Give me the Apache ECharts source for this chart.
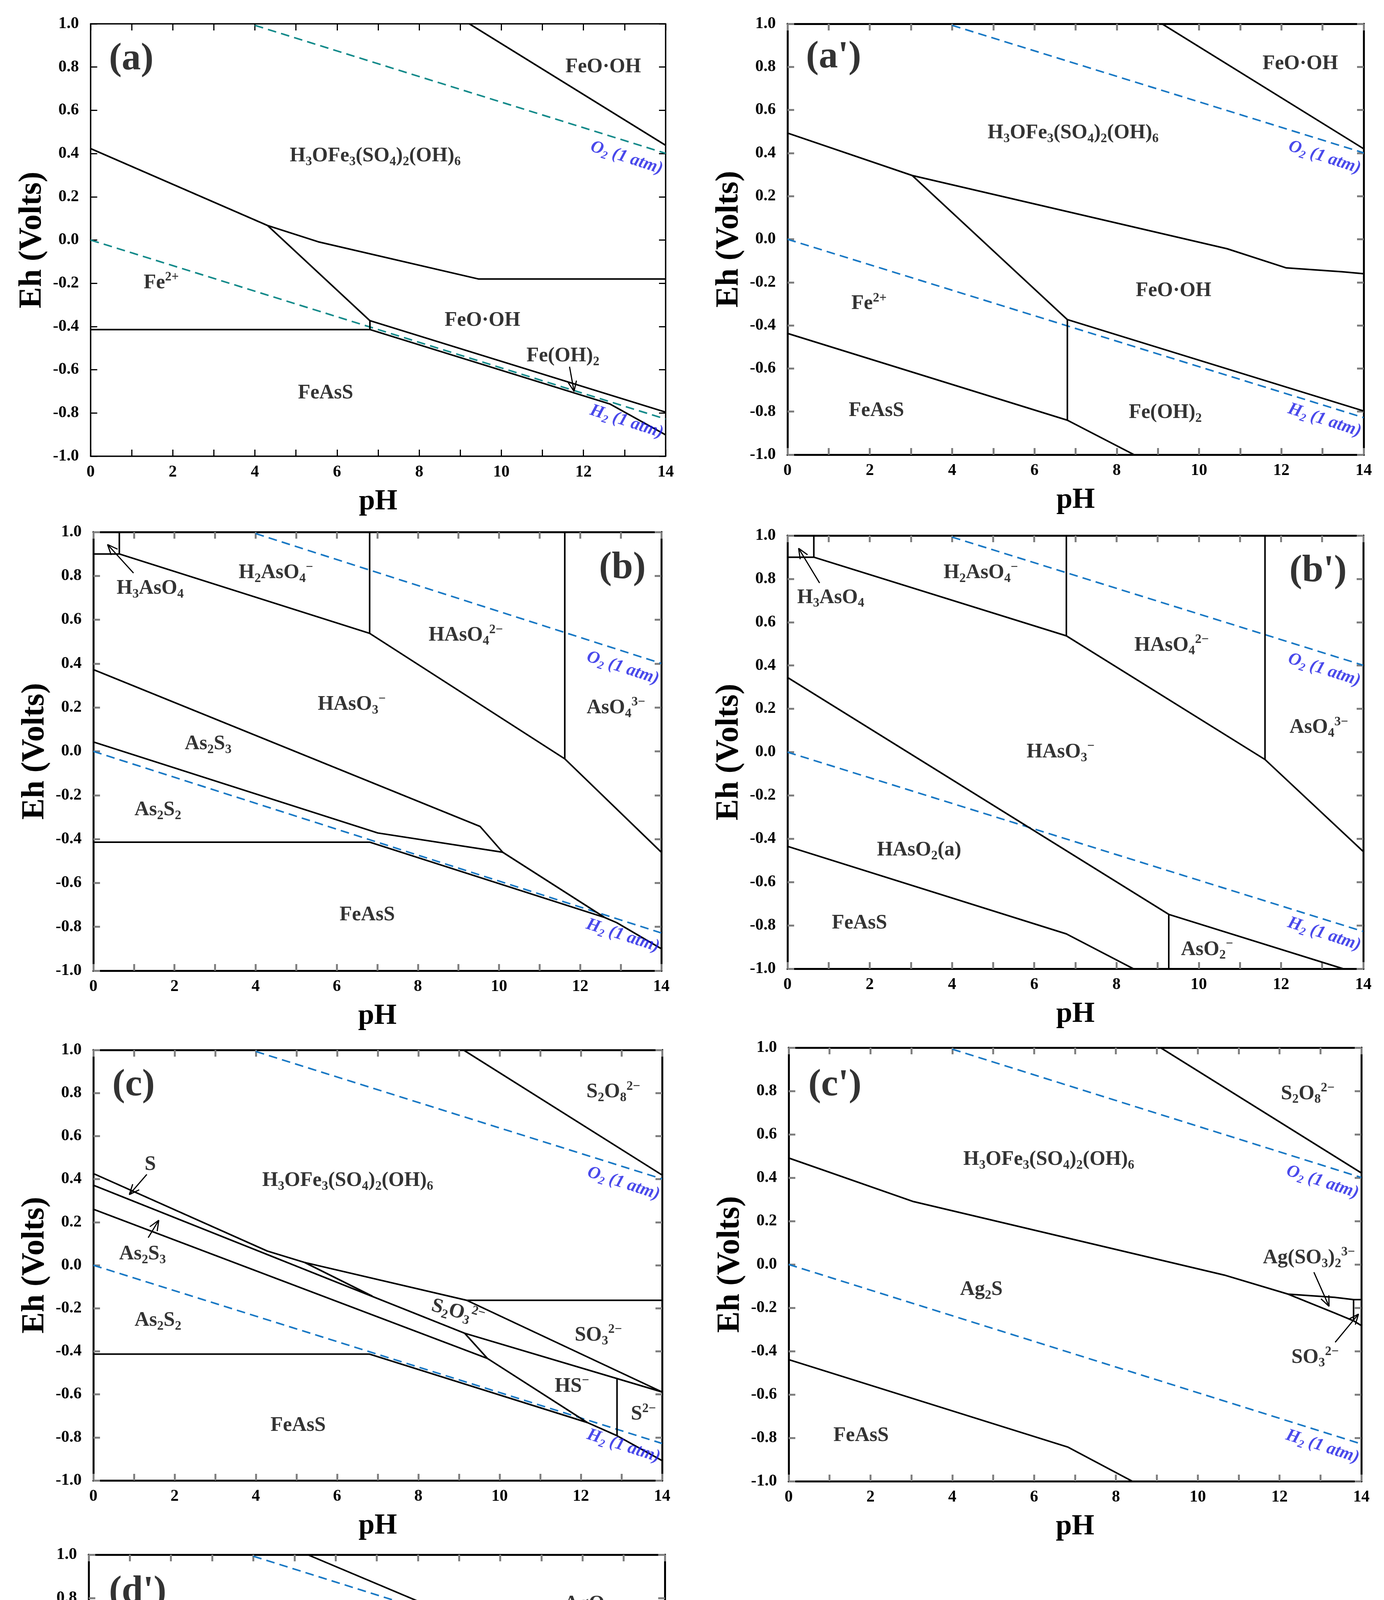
<!DOCTYPE html>
<html>
<head>
<meta charset="utf-8">
<script src="https://cdn.jsdelivr.net/npm/echarts@6/dist/echarts.min.js"></script>
<style>
  html, body { margin: 0; background: #fff; }
  #chart { width: 3543px; height: 5273px; }
</style>
</head>
<body>
<div id="chart"></div>
<script>
// water stability lines, same on every panel
const o2Line = [[4.0, 0.993], [14, 0.401]];
const h2Line = [[0, 0.0], [14, -0.828]];
const waterLabels = [[13.05, 0.38, 'O_2 (1 atm)'], [13.05, -0.84, 'H_2 (1 atm)']];

// (a)
const aTag = [0.99, 0.837, '(a)'];
const aLines = [
  [[9.22, 1.0], [14, 0.438]],
  [[0, 0.423], [4.31, 0.067], [5.54, -0.008], [9.44, -0.18], [14, -0.18]],
  [[4.31, 0.067], [6.80, -0.373]],
  [[6.80, -0.373], [14, -0.796]],
  [[6.80, -0.373], [6.80, -0.414]],
  [[0, -0.414], [6.80, -0.414], [12.64, -0.758], [14, -0.901]]
];
const aLabels = [
  [12.48, 0.80, 'FeO·OH'],
  [6.93, 0.388, 'H_3OFe_3(SO_4)_2(OH)_6'],
  [1.72, -0.198, 'Fe^{2+}'],
  [9.54, -0.373, 'FeO·OH'],
  [11.5, -0.537, 'Fe(OH)_2'],
  [5.72, -0.708, 'FeAsS']
];
const aArrows = [[[11.66, -0.586], [11.77, -0.70]]];

// (a')
const apTag = [1.12, 0.844, "(a')"];
const apLines = [
  [[9.10, 1.0], [14, 0.42]],
  [[0, 0.493], [3.03, 0.296], [10.68, -0.044], [12.12, -0.133], [13.48, -0.151], [14, -0.160]],
  [[3.03, 0.296], [6.80, -0.373]],
  [[6.80, -0.373], [6.80, -0.840]],
  [[6.80, -0.373], [14, -0.797]],
  [[0, -0.437], [6.80, -0.840], [8.42, -1.0]]
];
const apLabels = [
  [12.46, 0.814, 'FeO·OH'],
  [6.94, 0.493, 'H_3OFe_3(SO_4)_2(OH)_6'],
  [9.38, -0.240, 'FeO·OH'],
  [1.98, -0.30, 'Fe^{2+}'],
  [2.16, -0.797, 'FeAsS'],
  [9.18, -0.805, 'Fe(OH)_2']
];
const apArrows = [];

// (b)
const bTag = [13.04, 0.835, '(b)'];
const bLines = [
  [[0, 0.9], [0.64, 0.9]],
  [[0.64, 1.0], [0.64, 0.9]],
  [[0.64, 0.9], [6.81, 0.538], [11.62, -0.034], [14, -0.46]],
  [[6.81, 1.0], [6.81, 0.538]],
  [[11.62, 1.0], [11.62, -0.034]],
  [[0, 0.373], [9.53, -0.342], [10.09, -0.46], [12.6, -0.757], [12.9, -0.781], [14, -0.90]],
  [[0, 0.043], [7.01, -0.372], [10.09, -0.46]],
  [[0, -0.414], [6.81, -0.414], [12.6, -0.757]]
];
const bLabels = [
  [4.5, 0.813, 'H_2AsO_4^{−}'],
  [1.40, 0.742, 'H_3AsO_4'],
  [9.18, 0.528, 'HAsO_4^{2−}'],
  [6.37, 0.213, 'HAsO_3^{−}'],
  [12.88, 0.198, 'AsO_4^{3−}'],
  [2.83, 0.033, 'As_2S_3'],
  [1.59, -0.267, 'As_2S_2'],
  [6.75, -0.747, 'FeAsS']
];
const bArrows = [[[0.99, 0.813], [0.35, 0.943]]];

// (b')
const bpTag = [12.9, 0.834, "(b')"];
const bpLines = [
  [[0, 0.9], [0.64, 0.9]],
  [[0.64, 1.0], [0.64, 0.9]],
  [[0.64, 0.9], [6.78, 0.537], [11.61, -0.034], [14, -0.459]],
  [[6.78, 1.0], [6.78, 0.537]],
  [[11.61, 1.0], [11.61, -0.034]],
  [[0, 0.345], [9.27, -0.749], [13.51, -1.0]],
  [[9.27, -0.749], [9.27, -1.0]],
  [[0, -0.435], [6.78, -0.839], [8.41, -1.0]]
];
const bpLabels = [
  [4.7, 0.827, 'H_2AsO_4^{−}'],
  [1.05, 0.713, 'H_3AsO_4'],
  [9.34, 0.493, 'HAsO_4^{2−}'],
  [6.64, 0.0, 'HAsO_3^{−}'],
  [12.92, 0.113, 'AsO_4^{3−}'],
  [3.2, -0.453, 'HAsO_2(a)'],
  [1.75, -0.79, 'FeAsS'],
  [10.2, -0.912, 'AsO_2^{−}']
];
const bpArrows = [[[0.78, 0.781], [0.27, 0.941]]];

// (c)
const cTag = [0.99, 0.835, '(c)'];
const cLines = [
  [[9.11, 1.0], [14, 0.419]],
  [[0, 0.426], [4.28, 0.066], [5.2, 0.013], [9.19, -0.163], [14, -0.163]],
  [[0, 0.372], [9.14, -0.316], [14, -0.589]],
  [[5.2, 0.013], [6.87, -0.144]],
  [[0, 0.26], [9.70, -0.433]],
  [[9.14, -0.316], [9.70, -0.433], [12.16, -0.731]],
  [[9.19, -0.163], [14, -0.589]],
  [[12.89, -0.527], [12.89, -0.792]],
  [[0, -0.413], [6.80, -0.413], [12.16, -0.731], [12.89, -0.792], [14, -0.908]]
];
const cLabels = [
  [12.8, 0.804, 'S_2O_8^{2−}'],
  [6.26, 0.392, 'H_3OFe_3(SO_4)_2(OH)_6'],
  [1.40, 0.468, 'S'],
  [1.21, 0.051, 'As_2S_3'],
  [1.59, -0.257, 'As_2S_2'],
  [8.97, -0.219, 'S_2O_3^{2−}', -15],
  [12.43, -0.326, 'SO_3^{2−}'],
  [11.78, -0.563, 'HS^{−}'],
  [13.54, -0.693, 'S^{2−}'],
  [5.04, -0.746, 'FeAsS']
];
const cArrows = [
  [[1.316, 0.422], [0.885, 0.328]],
  [[1.35, 0.128], [1.61, 0.209]]
];

// (c')
const cpTag = [1.13, 0.825, "(c')"];
const cpLines = [
  [[9.09, 1.0], [14, 0.422]],
  [[0, 0.491], [3.05, 0.290], [10.65, -0.049], [12.21, -0.137], [13.35, -0.224], [13.81, -0.260], [14, -0.282]],
  [[12.21, -0.137], [13.35, -0.152], [13.81, -0.162], [14, -0.162]],
  [[13.81, -0.162], [13.81, -0.260]],
  [[0, -0.439], [6.82, -0.842], [8.40, -1.0]]
];
const cpLabels = [
  [12.69, 0.787, 'S_2O_8^{2−}'],
  [6.36, 0.483, 'H_3OFe_3(SO_4)_2(OH)_6'],
  [4.71, -0.117, 'Ag_2S'],
  [12.72, 0.03, 'Ag(SO_3)_2^{3−}'],
  [12.87, -0.429, 'SO_3^{2−}'],
  [1.77, -0.79, 'FeAsS']
];
const cpArrows = [
  [[12.84, -0.036], [13.21, -0.193]],
  [[13.36, -0.359], [13.93, -0.229]]
];

// (d')
const dpTag = [1.19, 0.828, "(d')"];
const dpLines = [
  [[5.32, 1.0], [10.61, 0.579]],
  [[10.61, 0.579], [13.42, 0.413], [14, 0.39]],
  [[10.61, 0.579], [10.61, -0.043]],
  [[13.42, 0.413], [13.42, -0.111]],
  [[0, 0.490], [3.01, 0.294], [10.61, -0.043], [11.21, -0.080]],
  [[11.21, -0.080], [13.42, -0.111], [14, -0.128]],
  [[11.21, -0.080], [11.21, -0.164]],
  [[11.21, -0.164], [14, -0.327]],
  [[0, -0.442], [6.80, -0.838], [8.40, -1.0]]
];
const dpBold = [[[0, -0.930], [1.66, -1.0]]];
const dpLabels = [
  [12.12, 0.774, 'AgO_2'],
  [5.44, 0.507, 'Ag^{+}'],
  [11.77, 0.214, 'Ag_2O'],
  [12.72, 0.05, 'AgO^{−}'],
  [5.42, -0.118, 'Ag_2S'],
  [12.7, -0.187, 'Ag(SO_3)_2^{3−}', -17],
  [3.24, -0.835, 'Ag^{+}'],
  [0.88, -0.759, 'AgO^{−}']
];
const dpArrows = [
  [[13.02, 0.158], [13.73, 0.228]],
  [[0.53, -0.846], [0.27, -0.98]]
];

const FONT = 'Liberation Serif';
const BLUE = '#1878c4';

const panels = [
  { tag: aTag, lines: aLines, bold: [], labels: aLabels, arrows: aArrows, box: [232, 61, 1704, 1168], water: '#138a8a', tick: '#000', tickW: 3, frameW: 3.5 },
  { tag: apTag, lines: apLines, bold: [], labels: apLabels, arrows: apArrows, box: [2016, 61, 3491, 1164], water: BLUE, tick: '#808080', tickW: 5, frameW: 5 },
  { tag: bTag, lines: bLines, bold: [], labels: bLabels, arrows: bArrows, box: [239, 1362, 1693, 2485], water: BLUE, tick: '#808080', tickW: 5, frameW: 5 },
  { tag: bpTag, lines: bpLines, bold: [], labels: bpLabels, arrows: bpArrows, box: [2016, 1371, 3490, 2480], water: BLUE, tick: '#808080', tickW: 5, frameW: 5 },
  { tag: cTag, lines: cLines, bold: [], labels: cLabels, arrows: cArrows, box: [239, 2688, 1695, 3790], water: BLUE, tick: '#808080', tickW: 5, frameW: 5 },
  { tag: cpTag, lines: cpLines, bold: [], labels: cpLabels, arrows: cpArrows, box: [2019, 2682, 3485, 3792], water: BLUE, tick: '#808080', tickW: 5, frameW: 5 },
  { tag: dpTag, lines: dpLines, bold: dpBold, labels: dpLabels, arrows: dpArrows, box: [227, 3980, 1702, 5096], water: BLUE, tick: '#808080', tickW: 5, frameW: 5 }
];

// turn "H_3AsO_4^{2−}" into echarts rich text
function chem(s, k) {
  let out = '', i = 0;
  while (i < s.length) {
    const c = s[i];
    if (c === '_' || c === '^') {
      let t;
      i++;
      if (s[i] === '{') { const j = s.indexOf('}', i); t = s.slice(i + 1, j); i = j + 1; }
      else { t = s[i]; i++; }
      out += '{' + k + (c === '_' ? 'sb' : 'sp') + '|' + t + '}';
    } else {
      let j = i;
      while (j < s.length && s[j] !== '_' && s[j] !== '^') j++;
      out += '{' + k + 'nn|' + s.slice(i, j) + '}';
      i = j;
    }
  }
  return out;
}

function richSet(k, size, color, italic) {
  const base = { fontFamily: FONT, fontWeight: 'bold', fontStyle: italic ? 'italic' : 'normal', color: color };
  const lh = size * 1.2;
  const small = Math.round(size * 0.64);
  const r = {};
  r[k + 'nn'] = Object.assign({}, base, { fontSize: size, lineHeight: lh });
  r[k + 'sb'] = Object.assign({}, base, { fontSize: small, lineHeight: 2 * (lh / 2 - size * 0.24), verticalAlign: 'bottom' });
  r[k + 'sp'] = Object.assign({}, base, { fontSize: small, lineHeight: 2 * (lh / 2 - size * 0.32), verticalAlign: 'top' });
  return r;
}
const RICH = Object.assign({}, richSet('m', 52, '#000', false), richSet('w', 45, '#1b1be6', true), richSet('t', 98, '#000', false));

const chart = echarts.init(document.getElementById('chart'));

const grid = [], xAxis = [], yAxis = [];
panels.forEach((p, g) => {
  const [l, t, r, b] = p.box;
  grid.push({ left: l, top: t, width: r - l, height: b - t, outerBoundsMode: 'none', show: false });
  const line = { show: true, onZero: false, lineStyle: { color: '#000', width: p.frameW } };
  const tick = { show: true, inside: true, length: 17, lineStyle: { color: p.tick, width: p.tickW } };
  const lab = { fontFamily: FONT, fontWeight: 'bold', fontSize: 42, color: '#000' };
  xAxis.push({
    gridIndex: g, type: 'value', min: 0, max: 14, interval: 1, position: 'bottom',
    axisLine: line, axisTick: tick, splitLine: { show: false },
    axisLabel: Object.assign({ margin: 20, formatter: v => (v % 2 === 0 ? String(v) : '') }, lab),
    name: 'pH', nameLocation: 'middle', nameGap: 80,
    nameTextStyle: { fontFamily: FONT, fontWeight: 'bold', fontSize: 74, color: '#000' }
  });
  xAxis.push({
    gridIndex: g, type: 'value', min: 0, max: 14, interval: 1, position: 'top',
    axisLine: line, axisTick: tick, splitLine: { show: false }, axisLabel: { show: false }
  });
  yAxis.push({
    gridIndex: g, type: 'value', min: -1, max: 1, interval: 0.2, position: 'left',
    axisLine: line, axisTick: tick, splitLine: { show: false },
    axisLabel: Object.assign({ margin: 30, formatter: v => (Math.abs(v) < 1e-9 ? '0.0' : v.toFixed(1)) }, lab),
    name: 'Eh (Volts)', nameLocation: 'middle', nameGap: 108, nameRotate: 90,
    nameTextStyle: { fontFamily: FONT, fontWeight: 'bold', fontSize: 82, color: '#000' }
  });
  yAxis.push({
    gridIndex: g, type: 'value', min: -1, max: 1, interval: 0.2, position: 'right',
    axisLine: line, axisTick: tick, splitLine: { show: false }, axisLabel: { show: false }
  });
});

function lineSeries(g, pts, color, width, type, z) {
  return {
    type: 'line', xAxisIndex: 2 * g, yAxisIndex: 2 * g, data: pts, symbol: 'none',
    silent: true, animation: false, z: z,
    lineStyle: { color: color, width: width, type: type || 'solid', cap: 'butt' }
  };
}

function textSeries(g, items, k) {
  return {
    type: 'scatter', xAxisIndex: 2 * g, yAxisIndex: 2 * g, symbolSize: 0, silent: true, animation: false, z: 10,
    itemStyle: { color: 'rgba(0,0,0,0)' },
    data: items.map(it => ({ value: [it[0], it[1]], name: it[2], label: { rotate: it[3] || 0 } })),
    label: { show: true, position: 'inside', formatter: q => chem(q.name, k), rich: RICH }
  };
}

const series = [];
panels.forEach((p, g) => {
  series.push(lineSeries(g, o2Line, p.water, 4, [22, 13], 2));
  series.push(lineSeries(g, h2Line, p.water, 4, [22, 13], 2));
  p.lines.forEach(pts => series.push(lineSeries(g, pts, '#000', 4, 'solid', 3)));
  p.bold.forEach(pts => series.push(lineSeries(g, pts, '#000', 6.5, 'solid', 3)));
  p.arrows.forEach(a => series.push(lineSeries(g, a, '#000', 3, 'solid', 4)));
  series.push(textSeries(g, p.labels, 'm'));
  series.push(textSeries(g, waterLabels.map(w => [w[0], w[1], w[2], -18]), 'w'));
  series.push(textSeries(g, [p.tag], 't'));
});

chart.setOption({ animation: false, backgroundColor: '#fff', grid: grid, xAxis: xAxis, yAxis: yAxis, series: series });

// open arrow heads, built in pixel space from each arrow's two data points
const heads = [];
panels.forEach((p, g) => {
  const f = { xAxisIndex: 2 * g, yAxisIndex: 2 * g };
  p.arrows.forEach(a => {
    const p1 = chart.convertToPixel(f, a[0]);
    const p2 = chart.convertToPixel(f, a[1]);
    const dx = p2[0] - p1[0], dy = p2[1] - p1[1];
    const len = Math.hypot(dx, dy);
    const ux = dx / len, uy = dy / len;
    const L = 26, W = 11;
    const bx = p2[0] - L * ux, by = p2[1] - L * uy;
    const pts = [[bx - W * uy, by + W * ux], p2, [bx + W * uy, by - W * ux]].map(q => chart.convertFromPixel(f, q));
    heads.push(lineSeries(g, pts, '#000', 3, 'solid', 4));
  });
});
chart.setOption({ series: series.concat(heads) });
</script>
</body>
</html>
